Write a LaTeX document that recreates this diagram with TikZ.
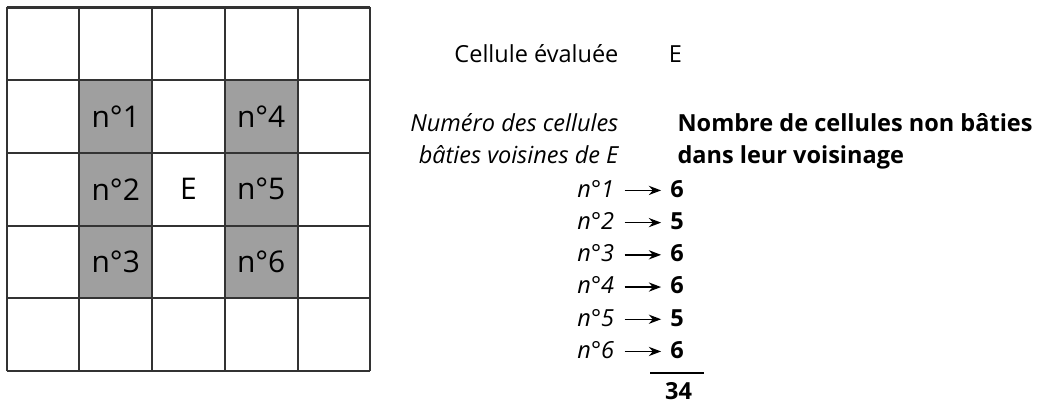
\documentclass[tikz,border=0pt]{standalone}
\usepackage{fontspec}
\setmainfont{Open Sans}
\usetikzlibrary{arrows.meta}
\definecolor{bati}{HTML}{9F9F9F}
\definecolor{trait}{HTML}{333333}
\begin{document}
\begin{tikzpicture}[
    grd/.style={font=\fontsize{11.7}{13}\selectfont},
    lbl/.style={inner sep=0pt, font=\fontsize{9.2}{11}\selectfont},
    lblit/.style={lbl, font=\fontsize{9.2}{11}\selectfont\itshape},
    lblbf/.style={lbl, font=\fontsize{9.2}{11}\selectfont\bfseries},
    arr/.style={-{Stealth[length=4.8pt,width=3.6pt]}, line width=0.55pt,
        shorten <=0.14cm, shorten >=0.12cm}
]
\useasboundingbox (-0.092,-0.44) rectangle (14.17,5.103);
\foreach \x/\y in {1/3,1/2,1/1,3/3,3/2,3/1}
    \fill[bati] (\x,\y) rectangle ++(1,1);
\draw[trait, line width=0.8pt] (0,0) grid (5,5);
\node[grd] (c1) at (1.5,3.5) {n°1};
\node[grd] (c2) at (1.5,2.5) {n°2};
\node[grd] (c3) at (1.5,1.5) {n°3};
\node[grd] (c4) at (3.5,3.5) {n°4};
\node[grd] (c5) at (3.5,2.5) {n°5};
\node[grd] (c6) at (3.5,1.5) {n°6};
\node[grd] (ce) at (2.5,2.5) {E};

\node[lbl, anchor=base east] (evaluee) at (8.42,4.25) {Cellule évaluée};
\node[lbl, anchor=base west] (evalE) at (9.10,4.25) {E};
\node[lblit, anchor=base east] (num1) at (8.42,3.29) {Numéro des cellules};
\node[lblit, anchor=base east] (num2) at (8.42,2.85) {bâties voisines de E};
\node[lblbf, anchor=base west] (nb1) at (9.22,3.29) {Nombre de cellules non bâties};
\node[lblbf, anchor=base west] (nb2) at (9.22,2.85) {dans leur voisinage};

\foreach \i/\v in {1/6,2/5,3/6,4/6,5/5,6/6} {
    \node[lblit, anchor=base east] (n\i) at (8.36,{2.39-0.443*(\i-1)}) {n°\i};
    \node[lblbf, anchor=base west] (v\i) at (9.12,{2.39-0.443*(\i-1)}) {\v};
    \draw[arr] (n\i.mid east) -- (v\i.mid west);
}
\draw[line width=0.6pt] (8.85,-0.028) -- (9.59,-0.028);
\node[lblbf, anchor=base west] (total) at (9.05,-0.39) {34};
\end{tikzpicture}
\end{document}
